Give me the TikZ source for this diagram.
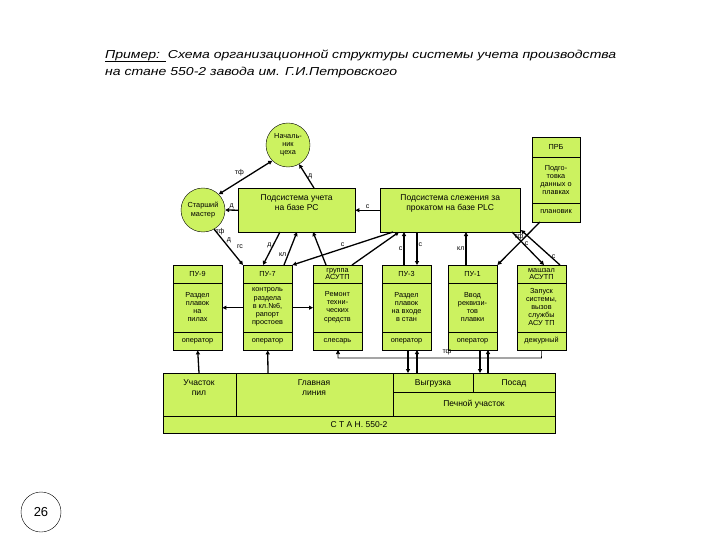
\documentclass[tikz,border=0pt]{standalone}
\usepackage{fontspec}
\setmainfont{Liberation Sans}
\usetikzlibrary{arrows.meta}
\definecolor{lgreen}{RGB}{204,242,96}

\begin{document}
\begin{tikzpicture}[x=1pt,y=-1pt,
every node/.style = {font=\fontsize{7.3}{8.2}\selectfont, align=center},
box/.style = {draw, fill=lgreen, inner sep=0pt},
link/.style = {line width=1.3pt, -{Triangle[length=4pt,width=4pt]}},
both/.style = {line width=1.3pt, {Triangle[length=4pt,width=4pt]}-{Triangle[length=4pt,width=4pt]}},
thin link/.style = {line width=0.6pt, -{Triangle[length=4pt,width=4pt]}},
lbl/.style = {font=\fontsize{7}{8}\selectfont, inner sep=1pt},
big/.style = {font=\fontsize{8.5}{10}\selectfont},
ttl/.style = {anchor=west, inner sep=0pt, font=\fontsize{11.5}{13}\selectfont\itshape}
]
\useasboundingbox (0,0) rectangle (720,540);
% title
\node[ttl] (title1) at (105,55)
  {\scalebox{1.22}[1]{Пример:\ \ Схема организационной структуры системы учета производства}};
\node[ttl] (title2) at (105,73)
  {\scalebox{1.22}[1]{на стане 550-2 завода им. Г.И.Петровского}};
\draw (105,61) -- (166,61);

% circles
\node[box, circle, minimum size=44pt] (chief) at (288,145) {Началь-\\ник\\цеха};
\node[box, circle, minimum size=44pt] (master) at (203,210) {Старший\\мастер};

% subsystems
\node[box, minimum width=117pt, minimum height=44pt, anchor=north west] (pc) at (238,188) {};
\node[anchor=north, big] at (pc.north) [yshift=-3pt] {Подсистема учета\\на базе PC};
\node[box, minimum width=140pt, minimum height=44pt, anchor=north west] (plc) at (380,188) {};
\node[anchor=north, big] at (plc.north) [yshift=-3pt] {Подсистема слежения за\\прокатом на базе PLC};

% ПРБ
\node[box, minimum width=48pt, minimum height=85pt, anchor=north west] (prb) at (532,137) {};
\draw (532,157) -- (580,157) (532,203) -- (580,203);
\node at (556,147) {ПРБ};
\node at (556,180) {Подго-\\товка\\данных о\\плавках};
\node at (556,212) {плановик};

% workplaces
\foreach \n/\x/\h/\m/\b in {
  pu9/173/{ПУ-9}/{Раздел\\плавок\\на\\пилах}/оператор,
  pu7/243/{ПУ-7}/{контроль\\раздела\\в кл.№6,\\рапорт\\простоев}/оператор,
  grp/313/{группа\\АСУТП}/{Ремонт\\техни-\\ческих\\средств}/слесарь,
  pu3/382/{ПУ-3}/{Раздел\\плавок\\на входе\\в стан}/оператор,
  pu1/448/{ПУ-1}/{Ввод\\реквизи-\\тов\\плавки}/оператор,
  mz/517/{машзал\\АСУТП}/{Запуск\\системы,\\вызов\\службы\\АСУ ТП}/дежурный}{
  \node[box, minimum width=49pt, minimum height=85pt, anchor=north west] (\n) at (\x,265) {};
  \draw (\x,283) -- ++(49,0) (\x,332) -- ++(49,0);
  \node[font=\fontsize{7.3}{7}\selectfont] at (\x+24.5,274) {\h};
  \node at (\x+24.5,307) {\m};
  \node at (\x+24.5,341) {\b};
}

% plant
\node[box, minimum width=392pt, minimum height=60pt, anchor=north west] (plant) at (163,373) {};
\draw (163,416) -- (555,416) (236,373) -- (236,416) (393,373) -- (393,416)
  (393,392) -- (555,392) (473,373) -- (473,392);
\node[big] (pil) at (199,388) {Участок\\пил};
\node[big] (main) at (314,388) {Главная\\линия};
\node[big] (unl) at (433,383) {Выгрузка};
\node[big] (pos) at (514,383) {Посад};
\node[big] (furn) at (474,404) {Печной участок};
\node[big] (stan) at (359,425) {С Т А Н. 550-2};

% page number
\node[draw, circle, fill=white, minimum size=40pt, font=\fontsize{13}{15}\selectfont] (page) at (41,512) {26};

% connectors
\draw[both] (master.north east) -- (chief.south west) node[lbl, midway, above left] {тф};
\draw[link] (314,188) -- (chief.-60) node[lbl, midway, right] {д};
\draw[link] (pc.west) -- (master.east) node[lbl, midway, above] {д};
\draw[link] (plc.west) -- (pc.east) node[lbl, midway, above] {с};
\draw[link] (master.-60) -- (pu7.north west);
\node[lbl] at (220,232) {тф};
\node[lbl] at (229,240) {д};
\node[lbl] at (240,247) {гс};
\draw[link] (280,232) -- (263,265) node[lbl, pos=0.4, left] {д};
\draw[link] (284,265) -- (297,232) node[lbl, pos=0.3, left] {кл};
\draw[link] (326,265) -- (313,232);
\draw[link] (393,232) -- (pu7.north east) node[lbl, pos=0.5, above] {с};
\draw[link] (352,265) -- (399,232);
\draw[link] (404,265) -- (404,232) node[lbl, midway, left] {с};
\draw[link] (417,232) -- (417,265) node[lbl, midway, above right] {с};
\draw[link] (466,265) -- (466,232) node[lbl, midway, left] {кл};
\draw[link] (540,222) -- (pu1.north east) node[lbl, pos=0.35, left] {тф};
\draw[link] (512,232) -- (544,265) node[lbl, pos=0.35, right] {с};
\draw[link] (560,265) -- (521,230) node[lbl, pos=0.25, right] {с};
\draw[link] (pu7.west) -- (pu9.east);
\draw[link] (pu7.east) -- (grp.west);
\draw[link] (199,373) -- (pu9.south);
\draw[link] (268,373) -- (pu7.south);
\draw[link] (408,350) -- (408,373);
\draw[link] (417,373) -- (417,350);
\draw[link] (480,350) -- (480,373);
\draw[link] (488,373) -- (488,350);
\draw[thin link] (mz.south) -- (541.5,358) -- (338,358) -- (338,350);
\node[lbl] at (447,352) {тф};
\end{tikzpicture}
\end{document}
